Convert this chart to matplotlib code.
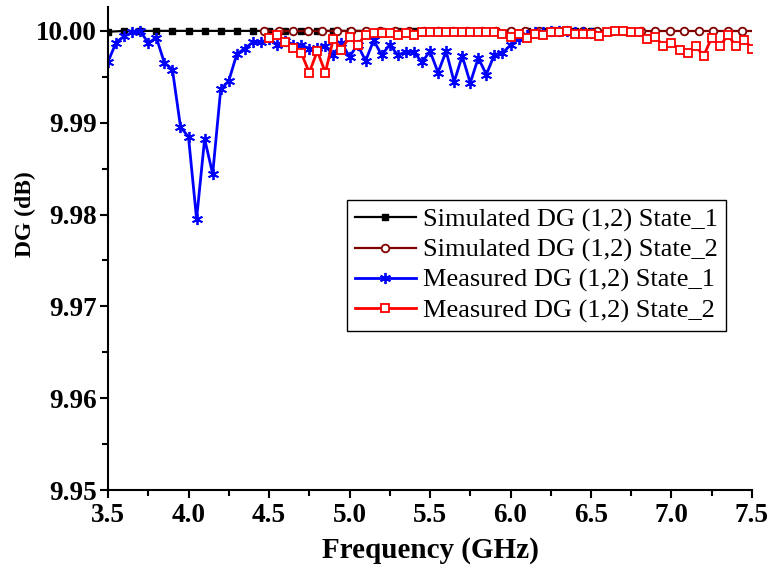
import numpy as np
import matplotlib
matplotlib.use('Agg')
import matplotlib.pyplot as plt
from matplotlib.ticker import MultipleLocator

# dados (GHz / dB)
sim1_freq = np.round(np.arange(3.5, 6.51, 0.1), 2)
sim1_dg = [9.9999] + [10.0] * 30

sim2_freq = list(np.round(np.arange(4.47, 7.45, 0.09), 2)) + [7.5]
sim2_dg = [10.0] * 35

meas1_freq = np.round(np.arange(3.5, 6.51, 0.05), 2)
meas1_dg = [9.99664, 9.99873, 9.99940, 9.99984, 10.00000, 9.99867, 9.99927, 9.99652, 9.99578, 9.98958,
            9.98842, 9.97952, 9.98824, 9.98442, 9.99365, 9.99455, 9.99748, 9.99808, 9.99878, 9.99875,
            9.99915, 9.99850, 9.99895, 9.99850, 9.99845, 9.99808, 9.99815, 9.99837, 9.99735, 9.99873,
            9.99717, 9.99851, 9.99673, 9.99898, 9.99735, 9.99851, 9.99735, 9.99771, 9.99771, 9.99658,
            9.99779, 9.99546, 9.99779, 9.99444, 9.99728, 9.99434, 9.99706, 9.99524, 9.99742, 9.99760,
            9.99844, 9.99916, 9.99953, 9.99985, 9.99990, 9.99995, 10.00000, 9.99995, 9.99990, 9.99985,
            9.99980]

meas2_freq = np.round(np.arange(4.5, 7.51, 0.05), 2)
meas2_dg = [9.99924, 9.99953, 9.99880, 9.99815, 9.99760, 9.99546, 9.99779, 9.99546, 9.99916, 9.99797,
            9.99935, 9.99844, 9.99960, 9.99980, 9.99980, 9.99980, 9.99950, 9.99980, 9.99955, 9.99990,
            9.99990, 9.99990, 9.99990, 9.99990, 9.99985, 9.99990, 9.99990, 9.99990, 9.99985, 9.99970,
            9.99935, 9.99970, 9.99924, 9.99970, 9.99950, 9.99990, 9.99990, 10.00000, 9.99965, 9.99971,
            9.99970, 9.99945, 9.99990, 9.99995, 10.00000, 9.99990, 9.99990, 9.99916, 9.99935, 9.99833,
            9.99873, 9.99790, 9.99764, 9.99833, 9.99728, 9.99927, 9.99833, 9.99953, 9.99837, 9.99906,
            9.99808]

labels = ['Simulated DG (1,2) State_1', 'Simulated DG (1,2) State_2',
          'Measured DG (1,2) State_1', 'Measured DG (1,2) State_2']

plt.rcParams['font.family'] = ['Liberation Serif', 'DejaVu Serif']

fig = plt.figure(figsize=(7.7, 5.69), dpi=100)
ax = fig.add_axes([0.1403, 0.1388, 0.8363, 0.8489])

ax.plot(sim1_freq, sim1_dg, color='black', lw=1.6, marker='s', ms=5, label=labels[0])
ax.plot(sim2_freq, sim2_dg, color='#800000', lw=1.6, marker='o', ms=5.5, mfc='white',
        mew=1.3, markevery=slice(0, 34), label=labels[1])
ax.plot(meas1_freq, meas1_dg, color='blue', lw=2.0, marker=(6, 2, 0), ms=8, mew=1.3, label=labels[2])
ax.plot(meas2_freq, meas2_dg, color='red', lw=2.0, marker='s', ms=5.5, mfc='white',
        mew=1.3, label=labels[3])

ax.set_xlim(3.5, 7.5)
ax.set_ylim(9.95, 10.0026)
ax.xaxis.set_major_locator(MultipleLocator(0.5))
ax.xaxis.set_minor_locator(MultipleLocator(0.25))
ax.yaxis.set_major_locator(MultipleLocator(0.01))
ax.yaxis.set_minor_locator(MultipleLocator(0.005))
ax.xaxis.set_major_formatter(plt.FormatStrFormatter('%.1f'))
ax.yaxis.set_major_formatter(plt.FormatStrFormatter('%.2f'))

ax.spines['top'].set_visible(False)
ax.spines['right'].set_visible(False)
for s in ['left', 'bottom']:
    ax.spines[s].set_linewidth(1.5)
ax.tick_params(which='major', direction='out', length=6, width=1.5, labelsize=19.5)
ax.tick_params(which='minor', direction='out', length=4, width=1.5)
ax.tick_params(axis='y', pad=2)
for t in ax.get_xticklabels() + ax.get_yticklabels():
    t.set_fontweight('bold')

ax.set_xlabel('Frequency (GHz)', fontsize=21, fontweight='bold', labelpad=6)
ax.set_ylabel('DG (dB)', fontsize=17, fontweight='bold')
ax.yaxis.set_label_coords(-0.112, 0.571)

leg = ax.legend(loc='upper left', bbox_to_anchor=(0.371, 0.600), fontsize=19,
                frameon=True, fancybox=False, edgecolor='black', framealpha=1,
                handlelength=2.3, handletextpad=0.3, labelspacing=0.24, borderpad=0.3,
                borderaxespad=0)
leg.get_frame().set_linewidth(1.0)

fig.savefig('out.png', dpi=100)
